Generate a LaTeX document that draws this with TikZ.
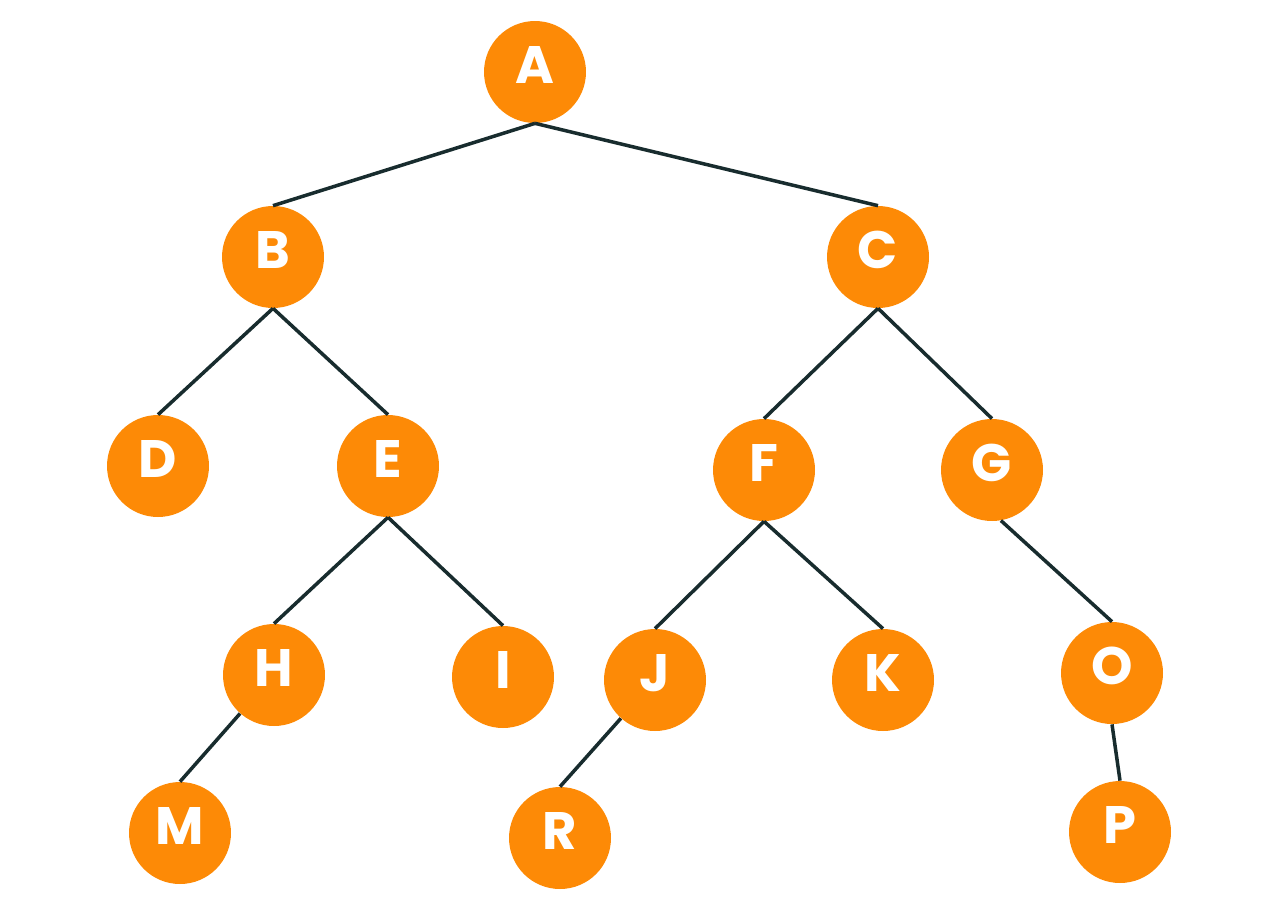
\documentclass[tikz,border=0pt]{standalone}
\usepackage{fontspec}
\setsansfont{Poppins}
\definecolor{TreeOrange}{RGB}{253,138,6}
\definecolor{TreeEdge}{RGB}{24,44,46}
\usetikzlibrary{positioning}

\begin{document}
\begin{tikzpicture}[
    x=0.02cm, y=-0.02cm,
    vertex/.style={circle, fill=TreeOrange, minimum size=2.04cm, inner sep=0pt,
                   text height=0.74cm, text depth=0.28cm,
                   text=white, font=\sffamily\bfseries\fontsize{30}{30}\selectfont},
    edge/.style={line width=2pt, TreeEdge}
]
\useasboundingbox (0,0) rectangle (1280,913);

% level 0 and 1
\node[vertex] (a) at (535,72) {A};
\node[vertex] (b) at (273,257) {B};
\node[vertex] (c) at (878,257) {C};

% level 2
\node[vertex] (d) at (158,466) {D};
\node[vertex] (e) at (388,466) {E};
\node[vertex] (f) at (764,470) {F};
\node[vertex] (g) at (992,470) {G};

% level 3
\node[vertex] (h) at (274,675) {H};
\node[vertex] (i) at (503,677) {I};
\node[vertex] (j) at (655,680) {J};
\node[vertex] (k) at (883,680) {K};
\node[vertex] (o) at (1112,673) {O};

% level 4
\node[vertex] (m) at (180,833) {M};
\node[vertex] (r) at (560,838) {R};
\node[vertex] (p) at (1120,832) {P};

\draw[edge] (a.south) -- (b.north);
\draw[edge] (a.south) -- (c.north);
\draw[edge] (b.south) -- (d.north);
\draw[edge] (b.south) -- (e.north);
\draw[edge] (c.south) -- (f.north);
\draw[edge] (c.south) -- (g.north);
\draw[edge] (e.south) -- (h.north);
\draw[edge] (e.south) -- (i.north);
\draw[edge] (f.south) -- (j.north);
\draw[edge] (f.south) -- (k.north);
\draw[edge] (g.-80) -- (o.north);
\draw[edge] (h) -- (m.north);
\draw[edge] (j) -- (r.north);
\draw[edge] (o.south) -- (p.north);

\end{tikzpicture}
\end{document}
